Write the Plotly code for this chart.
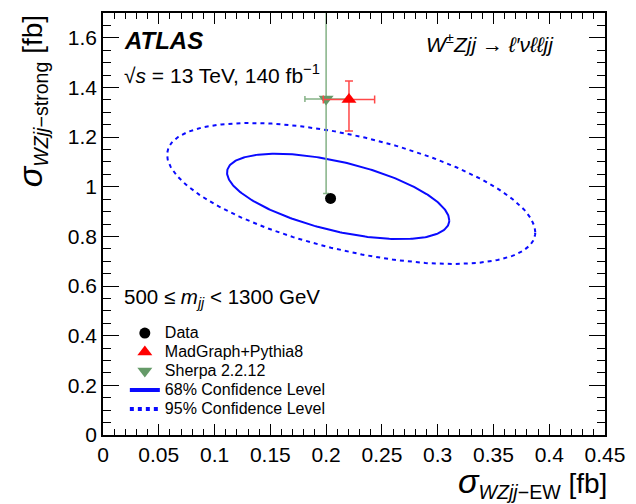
import numpy as np
import plotly.graph_objects as go

# ---- data ----
data_x = [0.204]
data_y = [0.953]

mg_x = [0.2205]
mg_y = [1.352]
mg_xerr = [0.023]
mg_yerr_up = [0.074]
mg_yerr_dn = [0.127]

sherpa_x = [0.200]
sherpa_y = [1.354]
sherpa_xerr = [0.019]
sherpa_yerr = [0.381]

# confidence contours: centre, half-extent in x and y, correlation
cl_names = ["68% Confidence Level", "95% Confidence Level"]
cl_cx = [0.2108, 0.2225]
cl_cy = [0.961, 0.973]
cl_hx = [0.0996, 0.1650]
cl_hy = [0.172, 0.284]
cl_rho = [-0.56, -0.55]
cl_dash = ["solid", "4px,4px"]

x_ticks = [0, 0.05, 0.1, 0.15, 0.2, 0.25, 0.3, 0.35, 0.4, 0.45]
y_ticks = [0, 0.2, 0.4, 0.6, 0.8, 1.0, 1.2, 1.4, 1.6]

FONT = "Liberation Sans, Arial, Helvetica, sans-serif"
BLUE = "#0a0aff"
RED = "#ff0000"
RED_ERR = "#ff4848"
GREEN = "#659a68"
GREEN_ERR = "#85b286"

fig = go.Figure()

# contours (no legend)
t = np.linspace(0, 2 * np.pi, 300)
for cx, cy, hx, hy, rho, dash in zip(cl_cx, cl_cy, cl_hx, cl_hy, cl_rho, cl_dash):
    ex = cx + hx * np.cos(t)
    ey = cy + hy * (rho * np.cos(t) + np.sqrt(1 - rho ** 2) * np.sin(t))
    fig.add_trace(go.Scatter(x=ex, y=ey, mode="lines", showlegend=False,
                             line=dict(color=BLUE, width=2, dash=dash),
                             hoverinfo="skip"))

def lg(s):
    return f'<span style="font-size:16px">{s}</span>'

# Sherpa
fig.add_trace(go.Scatter(
    x=sherpa_x, y=sherpa_y, mode="markers", name=lg("Sherpa 2.2.12"),
    marker=dict(symbol="triangle-down", size=13, color=GREEN),
    error_x=dict(type="data", array=sherpa_xerr, color=GREEN_ERR, thickness=1.5, width=3),
    error_y=dict(type="data", array=sherpa_yerr, color=GREEN_ERR, thickness=1.5, width=3),
    legendrank=3))

# MadGraph
fig.add_trace(go.Scatter(
    x=mg_x, y=mg_y, mode="markers", name=lg("MadGraph+Pythia8"),
    marker=dict(symbol="triangle-up", size=13, color=RED),
    error_x=dict(type="data", array=mg_xerr, color=RED_ERR, thickness=1.5, width=4),
    error_y=dict(type="data", array=mg_yerr_up, arrayminus=mg_yerr_dn,
                 color=RED_ERR, thickness=1.5, width=4),
    legendrank=2))

# Data
fig.add_trace(go.Scatter(
    x=data_x, y=data_y, mode="markers", name=lg("Data"),
    marker=dict(symbol="circle", size=11, color="black"),
    legendrank=1))

# legend entries for contours
for i, (nm, dash) in enumerate(zip(cl_names, cl_dash)):
    fig.add_trace(go.Scatter(x=[None], y=[None], mode="lines", name=lg(nm),
                             line=dict(color=BLUE, width=4, dash=dash),
                             legendrank=4 + i))

axis_common = dict(
    showgrid=False, zeroline=False, showline=True, linecolor="black", linewidth=1.5,
    mirror="allticks", ticks="inside", tickcolor="black", tickwidth=1.2,
    tickfont=dict(family=FONT, size=21, color="black"),
)

fig.update_layout(
    width=636, height=504,
    margin=dict(l=103, r=27, t=11, b=69),
    paper_bgcolor="white", plot_bgcolor="white",
    font=dict(family=FONT, color="black"),
    xaxis=dict(range=[0, 0.45], tickvals=x_ticks, ticklen=11,
               minor=dict(dtick=0.01, tick0=0, ticks="inside", ticklen=6,
                          tickcolor="black", tickwidth=1.2),
               **axis_common),
    yaxis=dict(range=[0, 1.7], tickvals=y_ticks, ticklen=16,
               minor=dict(dtick=0.05, tick0=0, ticks="inside", ticklen=8,
                          tickcolor="black", tickwidth=1.2),
               **axis_common),
    legend=dict(x=0.0435, y=0.276, xanchor="left", yanchor="top",
                bgcolor="rgba(0,0,0,0)", font=dict(family=FONT, size=12),
                tracegroupgap=0, itemwidth=30),
    showlegend=True,
)

ann = [
    dict(x=0.0375, y=0.936, text="<b><i>ATLAS</i></b>", size=24, xanchor="left"),
    dict(x=0.0375, y=0.856, text="√<i>s</i> = 13 TeV, 140 fb<sup>−1</sup>", size=21, xanchor="left"),
    dict(x=0.902, y=0.929, text="<i>W<sup>±</sup>Zjj → ℓ′νℓℓjj</i>", size=21, xanchor="right"),
    dict(x=0.0375, y=0.325, text="500 ≤ <i>m<sub>jj</sub></i> &lt; 1300 GeV", size=20.5, xanchor="left"),
]
for a in ann:
    fig.add_annotation(x=a["x"], y=a["y"], xref="paper", yref="paper", text=a["text"],
                       showarrow=False, xanchor=a["xanchor"], yanchor="middle",
                       font=dict(family=FONT, size=a["size"], color="black"))

# axis titles
fig.add_annotation(x=1.008, y=-0.113, xref="paper", yref="paper", showarrow=False,
                   xanchor="right", yanchor="middle",
                   text='<span style="font-size:34px"><i>σ</i></span><sub><i>WZjj</i>−EW</sub> [fb]',
                   font=dict(family=FONT, size=28, color="black"))
fig.add_annotation(x=-0.143, y=1.0, xref="paper", yref="paper", showarrow=False,
                   xanchor="center", yanchor="top", textangle=-90,
                   text='<span style="font-size:34px"><i>σ</i></span><sub><i>WZjj</i>−strong</sub> [fb]',
                   font=dict(family=FONT, size=28, color="black"))

fig.write_html("out.html")
